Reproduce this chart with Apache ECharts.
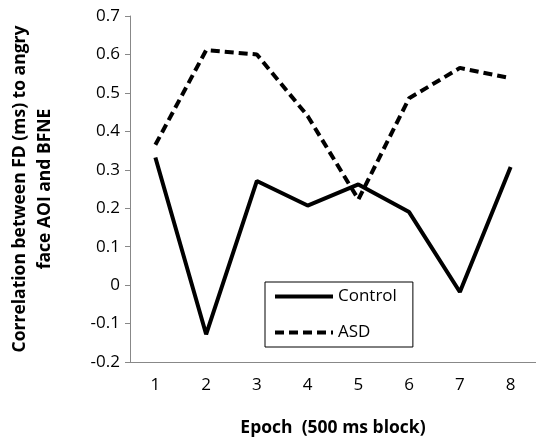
<!DOCTYPE html>
<html><head><meta charset="utf-8">
<script src="https://cdn.jsdelivr.net/npm/echarts@6/dist/echarts.min.js"></script>
<style>html,body{margin:0;padding:0;background:#fff}#c{width:536px;height:442px}</style>
</head><body><div id="c"></div>
<script>
const categories = ['1','2','3','4','5','6','7','8'];
const controlValues = [0.332, -0.128, 0.271, 0.207, 0.262, 0.19, -0.018, 0.307];
const asdValues = [0.365, 0.611, 0.6, 0.44, 0.223, 0.486, 0.565, 0.538];
const seriesNames = ['Control', 'ASD'];
const yTitle = 'Correlation between FD (ms) to angry\nface AOI and BFNE';
const xTitle = 'Epoch  (500 ms block)';

const font = 'Open Sans';
const chart = echarts.init(document.getElementById('c'));
chart.setOption({
  animation: false,
  backgroundColor: '#fff',
  grid: {left: 117, top: 16, width: 421, height: 359},
  legend: {
    orient: 'vertical', left: 265, top: 282,
    data: seriesNames,
    borderColor: '#000', borderWidth: 1, padding: [6, 16, 6, 8],
    itemWidth: 58, itemHeight: 14, itemGap: 19,
    itemStyle: {opacity: 0},
    lineStyle: {width: 4},
    textStyle: {fontFamily: font, fontSize: 17, color: '#000'}
  },
  xAxis: {
    type: 'category', data: categories, boundaryGap: true,
    name: xTitle, nameLocation: 'middle', nameGap: 57,
    nameTextStyle: {fontFamily: font, fontSize: 17.5, fontWeight: 'bold', color: '#000'},
    axisLine: {onZero: false, lineStyle: {color: '#888', width: 1}},
    axisTick: {alignWithLabel: true, length: 5, lineStyle: {color: '#888'}},
    axisLabel: {fontFamily: font, fontSize: 17, color: '#000', margin: 15}
  },
  yAxis: {
    type: 'value', min: -0.2, max: 0.7, interval: 0.1,
    name: yTitle, nameLocation: 'middle', nameGap: 72, nameRotate: 90,
    nameTextStyle: {fontFamily: font, fontSize: 17.5, fontWeight: 'bold', color: '#000', lineHeight: 25},
    splitLine: {show: false},
    axisLine: {show: true, lineStyle: {color: '#888', width: 1}},
    axisTick: {show: true, length: 5, lineStyle: {color: '#888'}},
    axisLabel: {fontFamily: font, fontSize: 17, color: '#000', margin: 10,
      formatter: v => (Math.round(v*10)/10).toString()}
  },
  series: [
    {name: seriesNames[0], type: 'line', data: controlValues, symbol: 'none',
     lineStyle: {color: '#000', width: 4, type: 'solid'}, itemStyle: {color: '#000'}},
    {name: seriesNames[1], type: 'line', data: asdValues, symbol: 'none',
     lineStyle: {color: '#000', width: 4, type: [9, 5]}, itemStyle: {color: '#000'}}
  ]
});
</script></body></html>
